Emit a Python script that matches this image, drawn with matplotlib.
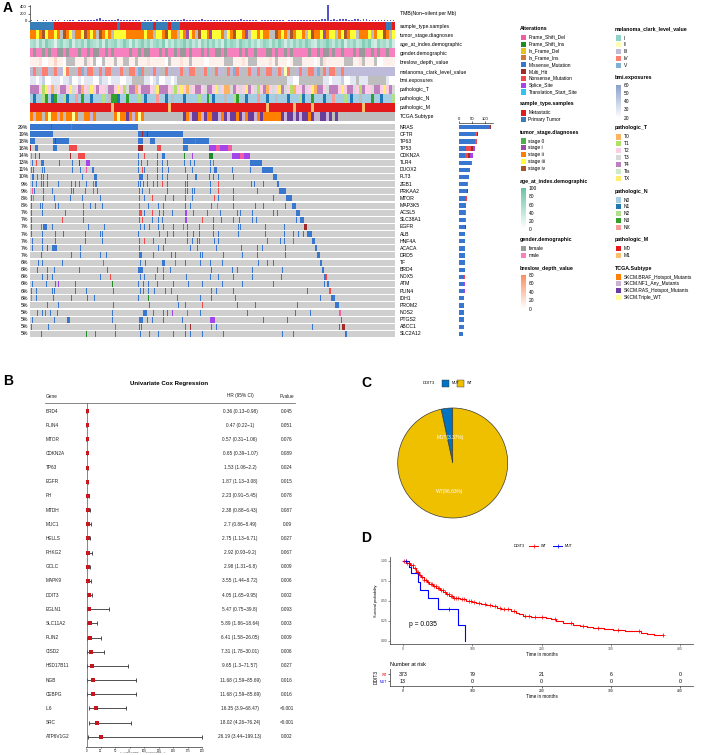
import numpy as np
import matplotlib
matplotlib.use("Agg")
import matplotlib.pyplot as plt
from matplotlib import transforms
from matplotlib.colors import LinearSegmentedColormap, to_rgb
from matplotlib.patches import Rectangle

plt.rcParams["font.family"] = ["Liberation Sans", "DejaVu Sans"]

W, H = 708, 755

# ---------------------------------------------------------------- panel A data
GENES = ["NRAS", "CFTR", "TP63", "TP53", "CDKN2A", "TLR4", "DUOX2", "FLT3", "ZEB1",
         "PRKAA2", "MTOR", "MAP3K5", "ACSL5", "SLC38A1", "EGFR", "ALB", "HNF4A",
         "ACACA", "DRD5", "TF", "BRD4", "NOX5", "ATM", "PLIN4", "IDH1", "PROM2",
         "NOS2", "PTGS2", "ABCC1", "SLC2A12"]
GENE_PCT = [29, 19, 18, 16, 14, 13, 11, 10, 9, 9, 8, 8, 7, 7, 7, 7, 7, 7, 7, 6,
            6, 6, 6, 6, 6, 5, 5, 5, 5, 5]

# mutated samples per gene: "a-b" block or single column, suffix = variant class
GENE_MARKS = [
    "0-108 21i 41n",
    "0-23 108-153 112h 117h",
    "0-5 23-39 108-113 120-125 153-179 25h 165n",
    "0h 5-8 23-27 39-47n 108-113h 127-131n 153-158 179-186s 186-190d 190-198s 198-202d",
    "1d 5 9i 40h 48-55n 108 114n 127 132-135 154i 162s 179-183i 202-210s 210-214d 214-220s",
    "2 6n 11-14 29 42 49h 56-60s 108 111 117 127 132 137 154 160 164 180 183n 220-232",
    "1s 3 12 13.5 42 50 56d 62-64 108 112n 114 127 132 138 155 162 180 184-187 202 220 232-243",
    "2-4 7 11 13 17 52 64-67 109-113 117 127 132 137 157 165-167 179 183 188 203 243-247",
    "2 6 11 13 17 28 41 45 49 56 63n 65-67 108 110 113 117 123 127 132n 137 155 157 180 188n 221 224 233 247-249",
    "2d 3.5 13 22 41 43 55 63n 67 109 112 119n 137 155n 157 162 164 180 188n 203 227 249-256",
    "1 3d 13 24 40 52 70 109 114 122n 135 143 155 162 184n 188 203 243 256-262",
    "1 10 12 25 28 53n 60 65 72 109n 118 128 133 155 160 181 187d 203 225 233 255 262-266",
    "1 12 35 53 109-112n 113.5 122n 129 133 142 155-157s 163 177 190 207 210 222 243 247 266-270",
    "1 32n 53 109 112n 122 128 132 155-157s 172n 183 191 203 209 222 226 266 270-274",
    "1 11n 13-17 22 58 74 110 114 119 128 133 143 153n 157 169 183 208 210 235 254 274-277h",
    "1 12 25 33 55 70 72 108 129 137 143 157 163 169 183 188 208 235 254 263 268 273 277-282",
    "2 12 25 55 72 109 114n 123 135 157 162 167 169 184 188 237 250 254 263n 282-285",
    "2 12 17i 22-27 50 109 128 133 160 167 186 211 227 232 255 285-287",
    "11 41 50 70 76 109-112 123 141 145 170 172 193 212 227 255 287-290",
    "8 12 32 73n 110 115 132-135 145n 155 170 180 192 228 237 243 290-292",
    "7 17 24 49 77 108-113 127 133n 140 181 202 207 222 252 292-294",
    "12 17 22 70 80n 110 114 125n 133 156 180 188 203 222 251 294-296 296-297n",
    "2 16 25 28s 45 82i 108 113 118 127 143 158 172 192 212 243 294 297-299",
    "1 6 22 24 45 56 83 110 113 118 124 135 141 181 186 203 277 299-301n",
    "1d 6 23 41 57 64 108 118i 147 170 181 205 290 301-305",
    "17 28 83 119 148 155 172n 207 225 267 305-309",
    "7 12 15n 20 27 82 113-117 123 133 137 142s 157n 170 217 265 280 309-311d",
    "2 24 37-40 82 109-113 117 122 133 152 180-185s 233 257 311-312",
    "1 18 85n 109 111 155 160h 181s 186 282 309 312-315h",
    "11 56i 65 85 110 119 128 143 155 160 172 193 252 263 315-317",
]
N_COLS = 365

BAR_MISSENSE = [118, 60, 60, 26, 22, 45, 40, 37, 31, 30, 27, 26, 24, 24, 23, 24, 22,
                23, 23, 21, 21, 20, 20, 19, 19, 19, 18, 18, 14, 17]
BAR_NONSENSE = [0, 10, 9, 18, 12, 4, 1, 1, 3, 2, 2, 1, 2, 3, 1, 0, 2, 0, 0, 1, 1, 2,
                0, 1, 0, 1, 1, 0, 2, 0]
BAR_MULTI = [2, 2, 1, 10, 6, 1, 0, 0, 0, 1, 0, 0, 1, 0, 1, 0, 0, 0, 0, 0, 0, 0, 0, 0,
             0, 0, 0, 0, 1, 0]
BAR_SPLICE = [0, 0, 0, 8, 13, 0, 2, 0, 0, 0, 0, 1, 0, 0, 0, 0, 0, 1, 0, 0, 0, 0, 1, 1,
              1, 0, 0, 1, 1, 0]

TMB = [15, 10, 20, 12, 18, 25, 10, 14, 22, 16, 12, 18, 30, 15, 20, 12, 25, 18, 14, 20,
       16, 30, 55, 70, 40, 22, 18, 25, 30, 45, 35, 28, 40, 25, 20, 18, 15, 12, 18, 20,
       14, 10, 16, 12, 20, 15, 18, 22, 14, 30, 25, 45, 35, 40, 30, 38, 28, 42, 30, 35,
       25, 30, 28, 35, 40, 30, 25, 32, 28, 38, 45, 30, 25, 20, 18, 15, 12, 20, 15, 18,
       14, 20, 25, 18, 15, 12, 20, 18, 25, 30, 22, 28, 35, 30, 40, 35, 30, 45, 50, 430,
       40, 55, 35, 50, 60, 45, 40, 35, 55, 45, 30, 50, 65, 40, 30, 25, 20, 35, 30, 25,
       20, 15]
N_BINS = 122

ANN_NAMES = ["sample_type.samples", "tumor_stage.diagnoses", "age_at_index.demographic",
             "gender.demographic", "breslow_depth_value", "melanoma_clark_level_value",
             "bmi.exposures", "pathologic_T", "pathologic_N", "pathologic_M", "TCGA.Subtype"]

SAMPLE_TYPE = "P:8 M:21 P:1 M:7 P:4 M:1 P:4 M:1 P:3 M:69 P:2 M:1"
TUMOR_STAGE = ("2:2 3:1 2:1 4:1 3:1 2:2 3:1 2:1 n:1 4:1 2:1 3:1 n:1 2:2 3:1 4:1 2:1 3:1 2:1 "
               "n:1 4:1 2:1 3:1 2:1 n:1 3:4 2:1 2:4 2:1 3:1 2:2 n:1 3:2 2:1 4:1 3:1 2:2 n:1 "
               "3:1 2:1 1:1 3:1 2:1 n:1 4:1 3:2 2:1 1:1 3:1 3:2 2:1 n:1 3:1 2:1 4:1 3:2 2:1 "
               "1:1 n:1 3:2 2:1 3:1 2:2 n:2 4:1 2:1 3:1 2:1 n:1 4:1 2:1 3:2 2:1 n:1 3:1 4:1 "
               "2:2 3:1 1:1 2:1 3:2 n:1 2:1 3:1 4:1 2:1 3:2 n:1 2:1 2:2 3:1 n:1 2:1 3:2 4:1 "
               "2:1 n:1 3:1")
AGE_DECADE = ("5637486526" "7458365748" "6547385674" "5863746857" "4675836475"
              "6857463758" "5746385764" "8657463576" "4758636475" "7586437568"
              "6475836574" "5868437564" "73")
GENDER = ("m:1 f:1 m:2 f:1 m:1 f:1 m:2 f:2 m:1 f:1 m:3 f:1 m:2 f:1 m:1 f:2 m:2 f:1 m:1 "
          "f:1 m:5 f:1 m:2 f:1 m:1 f:2 m:3 f:1 m:1 f:1 m:2 f:1 m:1 f:2 m:1 f:1 m:3 f:1 "
          "m:1 f:1 m:2 f:2 m:1 f:1 m:4 f:1 m:1 f:1 m:2 f:1 m:3 f:2 m:1 f:1 m:2 f:1 m:1 "
          "f:1 m:5 f:1 m:2 f:1 m:1 f:2 m:1 f:1 m:2 f:1 m:3 f:1 m:1 f:2 m:2 f:1 m:1 f:1 "
          "m:2 f:1 m:2")
BRESLOW = ("1:3 2:1 0:2 1:2 3:1 1:2 0:1 n:3 1:3 n:1 2:1 1:1 n:1 0:2 n:1 1:3 n:1 1:2 n:2 "
           "1:2 n:1 1:3 2:1 1:5 0:1 n:1 1:3 2:1 1:2 n:1 1:4 0:2 1:5 n:3 1:3 2:1 1:1 n:3 "
           "1:4 2:1 1:1 n:1 1:3 0:1 1:1 n:3 1:4 0:1 1:1 n:1 2:1 1:6 n:3 1:2 2:1 n:1 1:3 "
           "n:1 0:2 1:1 1:3")
CLARK = ("3:1 4:1 n:1 3:1 4:2 3:1 n:1 4:1 3:2 2:1 4:1 n:2 3:1 4:1 5:1 3:1 4:2 n:1 3:1 "
         "4:1 3:1 4:2 n:1 3:2 4:1 3:1 n:1 4:2 3:1 5:1 4:1 n:2 3:1 4:1 3:1 n:2 4:1 3:1 "
         "n:1 3:2 4:1 n:1 3:1 4:2 n:2 3:1 4:1 1:1 3:1 n:1 4:1 3:2 n:1 4:1 3:1 5:1 4:1 "
         "3:1 n:2 4:1 3:2 4:1 n:1 3:1 4:2 3:1 n:1 4:1 3:1 2:1 4:1 n:2 3:1 4:1 3:1 n:1 "
         "4:2 3:1 5:1 n:1 4:1 3:1 4:2 n:1 3:1 4:1 3:2")
BMI = ("3:2 2:1 3:1 4:1 2:2 3:3 2:1 3:2 4:1 2:2 3:1 2:1 3:3 2:2 4:1 3:2 2:1 3:3 2:2 3:2 "
       "n:4 3:2 2:1 3:1 4:1 2:2 3:2 2:1 3:1 n:37 3:2 2:2 n:8 3:2 2:1 3:3 4:1 2:2 3:2 n:1 "
       "3:1 3:2 n:6 3:1 2:2")
PATH_T = ("4:3 2:1 1:1 x:1 2:1 0:1 3:1 2:1 4:2 2:1 x:1 3:1 2:1 4:1 0:1 2:1 3:1 x:1 2:1 "
          "4:1 2:2 3:1 4:2 2:1 x:1 2:1 1:1 3:1 4:2 0:1 2:1 4:3 2:1 3:1 x:1 4:3 2:1 3:1 "
          "1:1 2:1 x:1 2:1 0:1 3:1 2:1 4:2 2:1 3:1 4:2 2:1 x:1 3:1 2:1 0:2 3:1 4:1 2:1 "
          "3:1 2:1 x:1 4:1 2:1 3:1 1:1 2:1 4:1 0:1 2:1 3:1 2:1 x:1 4:1 3:1 2:1 1:1 0:1 "
          "2:2 4:1 3:1 2:1 x:1 0:1 4:2 2:1 3:1 4:3 2:1 x:1 2:1 4:2 3:1 2:1 1:1 4:1 2:2 "
          "3:1 4:2 2:1 x:1 2:1 4:1 3:1")
PATH_N = ("0:1 1:1 0:2 2:1 3:1 0:1 1:1 3:1 0:2 2:1 1:1 0:2 x:1 0:1 3:1 0:2 1:1 0:3 2:1 "
          "0:1 n:1 3:2 1:1 0:2 3:1 0:3 2:1 0:1 1:1 0:3 x:1 0:2 1:1 0:1 n:1 0:3 1:1 0:4 "
          "2:1 0:2 3:1 0:1 1:1 0:3 n:1 0:2 2:1 3:1 0:2 1:1 0:3 x:1 0:2 1:1 0:2 n:1 0:3 "
          "1:1 0:3 2:1 1:1 0:2 3:1 0:3 1:1 0:2 x:1 0:3 2:1 0:1 1:1 0:2 n:1 0:3 3:1 0:2 "
          "1:1 0:3 2:1")
PATH_M = "0:27 1:1 0:18 1:1 0:32 1:1 0:8 1:1 0:5 1:1 0:16 1:1 0:10"
SUBTYPE = ("b:1 f:1 b:2 n:1 b:1 w:1 b:2 f:1 b:1 n:1 b:2 w:1 b:1 n:2 b:2 f:1 b:1 n:6 b:1 "
           "w:1 b:2 r:1 b:1 f:1 b:1 w:1 b:1 n:13 r:1 b:1 f:1 r:2 b:1 f:1 r:1 b:2 r:2 f:1 "
           "b:1 r:1 f:1 r:2 b:1 r:1 f:1 b:1 r:2 f:1 b:1 r:1 b:6 r:1 f:1 r:2 n:1 r:1 f:1 "
           "r:2 b:1 r:1 f:1 n:1 r:2 f:1 r:1 n:1 r:1 n:20")

# ---------------------------------------------------------------- panel B data
COX_GENES = ["BRD4", "PLIN4", "MTOR", "CDKN2A", "TP63", "EGFR", "FH", "MTDH", "MUC1",
             "HELLS", "PHKG2", "GCLC", "MAPK9", "DDIT3", "EGLN1", "SLC11A2", "PLIN2",
             "CISD2", "HSD17B11", "NGB", "CEBPG", "IL6", "SRC", "ATP6V1G2"]
COX_HR = ["0.36", "0.47", "0.57", "0.65", "1.53", "1.87", "2.23", "2.38", "2.7", "2.75",
          "2.92", "2.98", "3.55", "4.05", "5.47", "5.89", "6.41", "7.31", "9.65", "11.68",
          "11.68", "16.35", "18.02", "26.19"]
COX_LO = ["0.13", "0.22", "0.31", "0.39", "1.06", "1.13", "0.91", "0.88", "0.86", "1.13",
          "0.93", "1.31", "1.44", "1.65", "0.75", "1.86", "1.58", "1.78", "1.3", "1.59",
          "1.59", "3.9", "4.26", "3.44"]
COX_HI = ["0.98", "1", "1.06", "1.07", "2.2", "3.08", "5.45", "6.43", "8.49", "6.71",
          "9.2", "6.8", "8.72", "9.95", "39.8", "18.64", "26.05", "30.01", "71.57", "85.69",
          "85.69", "68.47", "76.24", "199.13"]
COX_P = ["0.045", "0.051", "0.076", "0.089", "0.024", "0.015", "0.078", "0.087", "0.09",
         "0.027", "0.067", "0.009", "0.006", "0.002", "0.093", "0.003", "0.009", "0.006",
         "0.027", "0.016", "0.016", "<0.001", "<0.001", "0.002"]

# ---------------------------------------------------------------- panel C / D data
PIE_LABELS = ["MUT", "WT"]
PIE_COUNTS = [13, 373]

WT_T = [0, 5, 10, 15, 19, 23, 26, 30, 34, 38, 43, 48, 53, 58, 62, 67, 72, 77, 82, 91,
        100, 106, 113, 120, 128, 135, 142, 149, 156, 163, 168, 173, 185, 197, 207, 214,
        221, 231, 238, 245, 255, 265, 274, 290, 303, 320, 344, 352, 363, 375]
WT_S = [1.0, 0.98, 0.95, 0.91, 0.865, 0.83, 0.80, 0.76, 0.73, 0.71, 0.68, 0.66, 0.63,
        0.61, 0.58, 0.56, 0.54, 0.53, 0.52, 0.50, 0.49, 0.475, 0.46, 0.445, 0.43, 0.415,
        0.40, 0.39, 0.375, 0.35, 0.33, 0.305, 0.30, 0.30, 0.28, 0.265, 0.245, 0.225,
        0.215, 0.20, 0.18, 0.17, 0.16, 0.15, 0.13, 0.125, 0.10, 0.08, 0.065, 0.065]
WT_CENSOR = [2, 4, 6, 8, 12, 14, 17, 20, 22, 25, 28, 31, 33, 36, 40, 42, 45, 47, 50, 52,
             55, 57, 60, 64, 66, 69, 71, 74, 76, 79, 85, 88, 95, 98, 103, 110, 118, 125,
             133, 140, 146, 152, 160, 176, 182, 190, 200, 220, 243, 260, 282, 310, 340, 375]
MUT_T = [0, 8, 12, 22, 24, 36, 50, 79, 90]
MUT_S = [1.0, 0.923, 0.846, 0.74, 0.635, 0.529, 0.397, 0.198, 0.0]
MUT_CENSOR = [5, 66]
RISK_TIMES = [0, 100, 200, 300, 400]
RISK_WT = [373, 79, 21, 6, 0]
RISK_MUT = [13, 0, 0, 0, 0]

# ---------------------------------------------------------------- colours
ALT_LABELS = ["Frame_Shift_Del", "Frame_Shift_Ins", "In_Frame_Del", "In_Frame_Ins",
              "Missense_Mutation", "Multi_Hit", "Nonsense_Mutation", "Splice_Site",
              "Translation_Start_Site"]
ALT_CODES = ["d", "i", "f", "g", "m", "h", "n", "s", "t"]
ALT_COLORS = ["#F25CA2", "#1F8B24", "#E5C31E", "#D2773A", "#3877CF", "#A12A2A",
              "#F04A4A", "#A445E8", "#2EC4F0"]
ALT = dict(zip(ALT_CODES, ALT_COLORS))
NA_COL = "#BEBEBE"
GENE_BG = "#CFCFCF"

SAMPLE_COLS = {"M": "#E41A1C", "P": "#377EB8"}
STAGE_COLS = {"0": "#4DAF4A", "1": "#984EA3", "2": "#FF7F00", "3": "#FFFF33", "4": "#A65628"}
GENDER_COLS = {"f": "#999999", "m": "#F781BF"}
CLARK_COLS = {"1": "#8DD3C7", "2": "#FFFFB3", "3": "#BEBADA", "4": "#FB8072", "5": "#80B1D3"}
T_COLS = {"0": "#FDB462", "1": "#B3DE69", "2": "#FCCDE5", "3": "#D9D9D9", "4": "#BC80BD",
          "s": "#CCEBC5", "x": "#FFED6F"}
N_COLS_MAP = {"0": "#A6CEE3", "1": "#1F78B4", "2": "#B2DF8A", "3": "#33A02C", "x": "#FB9A99"}
M_COLS = {"0": "#E31A1C", "1": "#FDBF6F"}
SUB_COLS = {"b": "#FF7F00", "f": "#CAB2D6", "r": "#6A3D9A", "w": "#FFFF99"}
AGE_CMAP = LinearSegmentedColormap.from_list("age", ["#FFFFFF", "#66C2A5"])
BRES_CMAP = LinearSegmentedColormap.from_list("bres", ["#FFFFFF", "#FC8D62"])
BMI_CMAP = LinearSegmentedColormap.from_list("bmi", ["#FFFFFF", "#8DA0CB"])
MUT_C, WT_C = "#0073C2", "#EFC000"


def expand_rle(spec, n=N_BINS):
    seq = []
    for tok in spec.split():
        c, k = tok.split(":")
        seq += [c] * int(k)
    seq = seq[:n]
    return seq + [seq[-1]] * (n - len(seq))


def cat_rgb(seq, cmap):
    return [to_rgb(cmap.get(c, NA_COL)) for c in seq]


def num_rgb(seq, cmap, lo, hi, scale=10):
    out = []
    for c in seq:
        if c == "n":
            out.append(to_rgb(NA_COL))
        else:
            out.append(cmap((int(c) * scale - lo) / (hi - lo))[:3])
    return out


def parse_marks(spec):
    out = []
    for tok in spec.split():
        code = "m"
        if tok[-1].isalpha():
            code, tok = tok[-1], tok[:-1]
        if "-" in tok:
            a, b = tok.split("-")
            out.append((float(a), float(b) - float(a), code))
        else:
            out.append((float(tok), 1.3, code))
    return out


fig = plt.figure(figsize=(W / 100, H / 100), dpi=100)


def px_axes(x0, y0, x1, y1):
    return fig.add_axes([x0 / W, 1 - y1 / H, (x1 - x0) / W, (y1 - y0) / H])


ov = px_axes(0, 0, W, H)
ov.set_xlim(0, W)
ov.set_ylim(H, 0)
ov.axis("off")
ov.patch.set_visible(False)
ov.set_zorder(5)

FS = 3.7

# ---------------------------------------------------------------- A: TMB
ax_tmb = px_axes(30, 5, 395, 21)
ax_tmb.bar(np.arange(N_BINS) + 0.5, TMB, width=0.6, color="#5454C8", linewidth=0)
ax_tmb.set_xlim(0, N_BINS)
ax_tmb.set_ylim(0, 427)
for s in ["top", "right", "bottom"]:
    ax_tmb.spines[s].set_visible(False)
ax_tmb.spines["left"].set_linewidth(0.4)
ax_tmb.set_xticks([])
ax_tmb.set_yticks([0, 200, 400])
ax_tmb.tick_params(axis="y", labelsize=3, length=1.5, width=0.4, pad=0.8)
ov.text(400, 13, "TMB(Non\u2212silent per Mb)", fontsize=FS, va="center")

# ---------------------------------------------------------------- A: annotations
ann_rgb = [
    cat_rgb(expand_rle(SAMPLE_TYPE), SAMPLE_COLS),
    cat_rgb(expand_rle(TUMOR_STAGE), STAGE_COLS),
    num_rgb(list(AGE_DECADE[:N_BINS]), AGE_CMAP, 0, 100),
    cat_rgb(expand_rle(GENDER), GENDER_COLS),
    num_rgb(expand_rle(BRESLOW), BRES_CMAP, 0, 80),
    cat_rgb(expand_rle(CLARK), CLARK_COLS),
    num_rgb(expand_rle(BMI), BMI_CMAP, 20, 60),
    cat_rgb(expand_rle(PATH_T), T_COLS),
    cat_rgb(expand_rle(PATH_N), N_COLS_MAP),
    cat_rgb(expand_rle(PATH_M), M_COLS),
    cat_rgb(expand_rle(SUBTYPE), SUB_COLS),
]
ax_ann = px_axes(30, 21.7, 395, 121.2)
for r, rgb in enumerate(ann_rgb):
    ax_ann.imshow(np.array(rgb)[None, :, :], extent=(0, N_BINS, r + 0.95, r + 0.05),
                  aspect="auto", interpolation="nearest")
ax_ann.set_xlim(0, N_BINS)
ax_ann.set_ylim(len(ANN_NAMES), 0)
ax_ann.axis("off")
tr_ann = transforms.blended_transform_factory(ov.transData, ax_ann.transData)
for r, name in enumerate(ANN_NAMES):
    ov.text(400, r + 0.5, name, transform=tr_ann, fontsize=FS, va="center")

# ---------------------------------------------------------------- A: gene matrix
ax_gene = px_axes(30, 123.5, 395, 337.5)
for i, spec in enumerate(GENE_MARKS):
    y = i + 0.5
    ax_gene.barh(y, N_COLS, left=0, height=0.84, color=GENE_BG, linewidth=0)
    for start, width, code in parse_marks(spec):
        ax_gene.barh(y, width, left=start, height=0.84, color=ALT[code], linewidth=0)
ax_gene.set_xlim(0, N_COLS)
ax_gene.set_ylim(len(GENES), 0)
ax_gene.axis("off")
tr_gene = transforms.blended_transform_factory(ov.transData, ax_gene.transData)
for i, (g, p) in enumerate(zip(GENES, GENE_PCT)):
    ov.text(400, i + 0.5, g, transform=tr_gene, fontsize=FS, va="center")
    ov.text(28.5, i + 0.5, f"{p}%", transform=tr_gene, fontsize=FS, va="center", ha="right")

# ---------------------------------------------------------------- A: gene bars
ax_gb = px_axes(459, 123.5, 493.2, 337.5)
yy = np.arange(len(GENES)) + 0.5
left = np.zeros(len(GENES))
for vals, code in [(BAR_MISSENSE, "m"), (BAR_NONSENSE, "n"), (BAR_MULTI, "h"), (BAR_SPLICE, "s")]:
    ax_gb.barh(yy, vals, left=left, height=0.62, color=ALT[code], linewidth=0)
    left += np.array(vals)
ax_gb.set_xlim(0, 130)
ax_gb.set_ylim(len(GENES), 0)
for s in ["bottom", "right", "left"]:
    ax_gb.spines[s].set_visible(False)
ax_gb.spines["top"].set_linewidth(0.4)
ax_gb.set_yticks([])
ax_gb.set_xticks([0, 50, 100])
ax_gb.xaxis.tick_top()
ax_gb.tick_params(axis="x", labelsize=3, length=1.2, width=0.4, pad=0.5)

# ---------------------------------------------------------------- A: legends
def legend_items(x, y_title, title, labels, colors, y0, step=6.9):
    ov.text(x, y_title, title, fontsize=3.8, fontweight="bold", va="center")
    for k, (lab, col) in enumerate(zip(labels, colors)):
        yc = y0 + k * step
        ov.add_patch(Rectangle((x + 1, yc - 2.6), 4.5, 5.2, facecolor=col, linewidth=0))
        ov.text(x + 8.5, yc, lab, fontsize=3.5, va="center")


def legend_bar(x, y_title, title, y_top, y_bot, lo, hi, ticks, cmap):
    ov.text(x, y_title, title, fontsize=3.8, fontweight="bold", va="center")
    cax = px_axes(x + 0.5, y_top, x + 5.5, y_bot)
    cax.imshow(np.linspace(0, 1, 64)[:, None], extent=(0, 1, lo, hi), origin="lower",
               cmap=cmap, aspect="auto")
    cax.set_ylim(lo, hi)
    cax.set_xticks([])
    cax.set_yticks(ticks)
    cax.yaxis.tick_right()
    cax.tick_params(axis="y", labelsize=3.5, length=0, pad=2.5)
    for s in cax.spines.values():
        s.set_visible(False)


legend_items(520, 28.5, "Alterations", ALT_LABELS, ALT_COLORS, 37.3, 6.83)
legend_items(520, 104, "sample_type.samples", ["Metastatic", "Primary Tumor"],
             [SAMPLE_COLS["M"], SAMPLE_COLS["P"]], 113)
legend_items(520, 132.3, "tumor_stage.diagnoses",
             ["stage 0", "stage i", "stage ii", "stage iii", "stage iv"],
             [STAGE_COLS[k] for k in "01234"], 141)
legend_bar(520, 181.3, "age_at_index.demographic", 188, 229.3, 0, 100,
           [0, 20, 40, 60, 80, 100], AGE_CMAP)
legend_items(520, 240, "gender.demographic", ["female", "male"],
             [GENDER_COLS["f"], GENDER_COLS["m"]], 248.7)
legend_bar(520, 268.3, "breslow_depth_value", 275, 308.7, 0, 80,
           [0, 20, 40, 60, 80], BRES_CMAP)

legend_items(615, 29, "melanoma_clark_level_value", ["I", "II", "III", "IV", "V"],
             [CLARK_COLS[k] for k in "12345"], 38)
legend_bar(615, 78, "bmi.exposures", 84.7, 117.7, 20, 60, [20, 30, 40, 50, 60], BMI_CMAP)
legend_items(615, 128, "pathologic_T", ["T0", "T1", "T2", "T3", "T4", "Tis", "TX"],
             [T_COLS[k] for k in "01234sx"], 137)
legend_items(615, 191, "pathologic_N", ["N0", "N1", "N2", "N3", "NX"],
             [N_COLS_MAP[k] for k in "0123x"], 200)
legend_items(615, 240, "pathologic_M", ["M0", "M1"], [M_COLS["0"], M_COLS["1"]], 248.7)
legend_items(615, 268.3, "TCGA.Subtype",
             ["SKCM.BRAF_Hotspot_Mutants", "SKCM.NF1_Any_Mutants",
              "SKCM.RAS_Hotspot_Mutants", "SKCM.Triple_WT"],
             [SUB_COLS[k] for k in "bfrw"], 277)

# ---------------------------------------------------------------- B: forest plot
hr = np.array([float(v) for v in COX_HR])
lo = np.array([float(v) for v in COX_LO])
hi = np.array([float(v) for v in COX_HI])
rows = np.arange(len(COX_GENES))
ax_f = px_axes(86.3, 403, 202.3, 746.5)
ax_f.errorbar(hr, rows, xerr=[hr - lo, hi - hr], fmt="none", ecolor="#333333",
              elinewidth=0.6, capsize=1.4, capthick=0.6)
ax_f.plot(hr, rows, "s", color="#C8141E", ms=2.2, mew=0)
ax_f.axvline(1, color="#555555", lw=0.5)
ax_f.set_xlim(0, 200)
ax_f.set_ylim(23.69, -0.565)
for s in ["top", "right", "left"]:
    ax_f.spines[s].set_visible(False)
ax_f.spines["bottom"].set_linewidth(0.4)
ax_f.set_yticks([])
ax_f.set_xticks(np.arange(0, 201, 25))
ax_f.tick_params(axis="x", labelsize=2, length=1, width=0.4, pad=0.5)
ax_f.patch.set_visible(False)

tr_f = transforms.blended_transform_factory(ov.transData, ax_f.transData)
for i, g in enumerate(COX_GENES):
    ov.text(46, i, g, transform=tr_f, fontsize=3.4, va="center", color="#222222")
    ov.text(240, i, f"{COX_HR[i]} ({COX_LO[i]}\u2212{COX_HI[i]})", transform=tr_f,
            fontsize=3.4, va="center", ha="center", color="#222222")
    ov.text(287, i, COX_P[i], transform=tr_f, fontsize=3.4, va="center", ha="center",
            color="#222222")
ov.text(169, 383, "Univariate Cox Regression", fontsize=4.4, fontweight="bold",
        ha="center", va="center")
ov.text(46, 396, "Gene", fontsize=3.4, va="center", color="#222222")
ov.text(240, 396, "HR (95% CI)", fontsize=3.4, va="center", ha="center", color="#222222")
ov.text(287, 396, "Pvalue", fontsize=3.4, va="center", ha="center", color="#222222")
ov.plot([45, 295], [403.3, 403.3], color="#555555", lw=0.5)
ov.text(143, 752.8, "<----Lower hazard----   ----Greater hazard---->", fontsize=1.6,
        ha="center", va="center", color="#333333")

# ---------------------------------------------------------------- C: pie
ax_p = px_axes(397.7, 408, 507.7, 518)
ax_p.pie(PIE_COUNTS, colors=[MUT_C, WT_C], startangle=90, counterclock=True,
         wedgeprops=dict(edgecolor="#3a3a3a", linewidth=0.5))
ax_p.set_xlim(-1.0, 1.0)
ax_p.set_ylim(-1.0, 1.0)
total = sum(PIE_COUNTS)
ax_p.text(-0.05, 0.47, f"{PIE_LABELS[0]}({100 * PIE_COUNTS[0] / total:.2f}%)",
          color="white", fontsize=3.5, ha="center", va="center")
ax_p.text(-0.05, -0.51, f"{PIE_LABELS[1]}({100 * PIE_COUNTS[1] / total:.2f}%)",
          color="white", fontsize=3.5, ha="center", va="center")
ov.text(423, 383.3, "DDIT3", fontsize=3, va="center")
ov.add_patch(Rectangle((442, 380), 7, 7, facecolor=MUT_C, edgecolor="#333333", lw=0.3))
ov.text(451.5, 383.3, "MUT", fontsize=2.6, va="center")
ov.add_patch(Rectangle((457, 380), 7, 7, facecolor=WT_C, edgecolor="#333333", lw=0.3))
ov.text(467, 383.3, "WT", fontsize=2.6, va="center")

# ---------------------------------------------------------------- D: KM curve
ax_km = px_axes(390, 556.7, 693, 644)
ax_km.step(WT_T, WT_S, where="post", color="red", lw=0.8)
ax_km.step(MUT_T, MUT_S, where="post", color="blue", lw=0.8)
wt_t, wt_s = np.array(WT_T), np.array(WT_S)
cs = [wt_s[np.searchsorted(wt_t, t, side="right") - 1] for t in WT_CENSOR]
ax_km.plot(WT_CENSOR, cs, "+", color="red", ms=2.4, mew=0.5)
mt, ms_ = np.array(MUT_T), np.array(MUT_S)
cm = [ms_[np.searchsorted(mt, t, side="right") - 1] for t in MUT_CENSOR]
ax_km.plot(MUT_CENSOR, cm, "+", color="blue", ms=2.4, mew=0.5)
ax_km.set_xlim(-18.8, 418.6)
ax_km.set_ylim(-0.044, 1.054)
for s in ["top", "right"]:
    ax_km.spines[s].set_visible(False)
for s in ["left", "bottom"]:
    ax_km.spines[s].set_linewidth(0.5)
    ax_km.spines[s].set_color("#333333")
ax_km.set_xticks(RISK_TIMES)
ax_km.set_yticks([0, 0.25, 0.5, 0.75, 1.0])
ax_km.set_yticklabels(["0.00", "0.25", "0.50", "0.75", "1.00"])
ax_km.tick_params(labelsize=2.4, length=1.2, width=0.4, pad=0.8, colors="#444444")
ax_km.set_xlabel("Time in months", fontsize=3.3, labelpad=1)
ax_km.set_ylabel("Survival probability", fontsize=2.8, labelpad=2)
ax_km.text(8.7, 0.195, "p = 0.035", fontsize=4.8, va="center")
ax_km.patch.set_visible(False)

ov.text(514, 546, "DDIT3", fontsize=2.8, va="center")
ov.plot([529, 538], [546, 546], color="red", lw=0.7)
ov.plot([533.5], [546], "+", color="red", ms=2.2, mew=0.5)
ov.text(541, 546, "WT", fontsize=2.6, va="center")
ov.plot([553, 562], [546, 546], color="blue", lw=0.7)
ov.plot([557.5], [546], "+", color="blue", ms=2.2, mew=0.5)
ov.text(565, 546, "MUT", fontsize=2.6, va="center")

# ---------------------------------------------------------------- D: risk table
ax_r = px_axes(390, 668.5, 693, 686)
for t, a, b in zip(RISK_TIMES, RISK_WT, RISK_MUT):
    ax_r.text(t, 1, str(a), fontsize=3.8, ha="center", va="center")
    ax_r.text(t, 0, str(b), fontsize=3.8, ha="center", va="center")
ax_r.set_xlim(-18.8, 418.6)
ax_r.set_ylim(-0.714, 1.786)
for s in ["top", "right"]:
    ax_r.spines[s].set_visible(False)
for s in ["left", "bottom"]:
    ax_r.spines[s].set_linewidth(0.5)
    ax_r.spines[s].set_color("#333333")
ax_r.set_xticks(RISK_TIMES)
ax_r.set_yticks([0, 1])
ax_r.set_yticklabels(["MUT", "WT"])
for lab, col in zip(ax_r.get_yticklabels(), ["blue", "red"]):
    lab.set_color(col)
ax_r.tick_params(labelsize=2.4, length=1.2, width=0.4, pad=0.8)
ax_r.set_xlabel("Time in months", fontsize=3.3, labelpad=1)
ax_r.set_ylabel("DDIT3", fontsize=3.5, labelpad=1)
ax_r.patch.set_visible(False)
ov.text(390, 664, "Number at risk", fontsize=4, va="center")

# ---------------------------------------------------------------- panel letters
for lab, x, y in [("A", 8, 8), ("B", 8, 381), ("C", 366, 383), ("D", 366, 538)]:
    ov.text(x, y, lab, fontsize=10, fontweight="bold", ha="center", va="center")

fig.savefig("out.png", dpi=100)
